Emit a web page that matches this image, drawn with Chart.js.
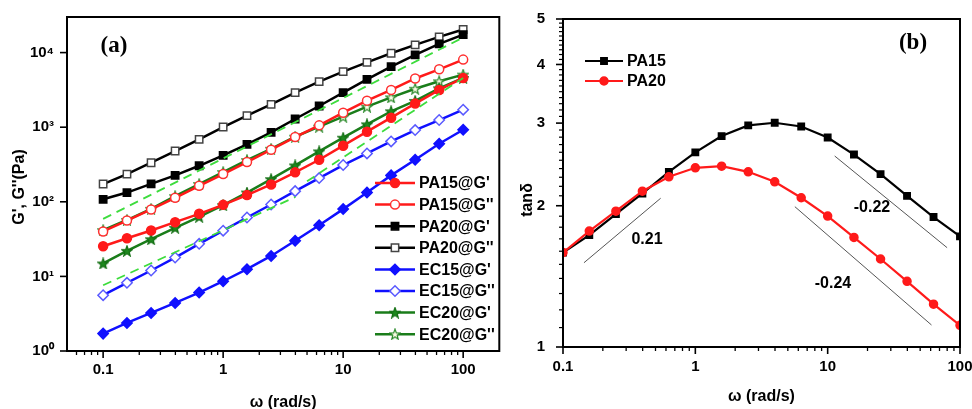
<!DOCTYPE html>
<html lang="en">
<head>
<meta charset="UTF-8">
<title>G', G'' e tanδ</title>
<script src="https://cdn.jsdelivr.net/npm/chart.js@4"></script>
<style>
  body { margin: 0; background: #fff; }
  #wrap { position: relative; width: 972px; height: 409px; overflow: hidden; }
  canvas { position: absolute; top: 0; }
</style>
</head>
<body>
<div id="wrap">
  <canvas id="graficoA" width="506" height="409" style="left:0"></canvas>
  <canvas id="graficoB" width="466" height="409" style="left:506px"></canvas>
</div>
<script>
// frequencias (rad/s)
var omega = [0.1, 0.158, 0.251, 0.398, 0.631, 1, 1.58, 2.51, 3.98, 6.31, 10, 15.8, 25.1, 39.8, 63.1, 100];

// painel (a) - G' e G'' (Pa)
var pa15G1 = [25.4, 32.5, 41.2, 53.3, 69, 91, 123, 171, 248, 366, 565, 871, 1342, 2070, 3155, 4570];
var pa15G2 = [40, 56, 79, 113, 164, 235, 341, 499, 738, 1059, 1566, 2269, 3155, 4500, 5970, 8050];
var pa20G1 = [108, 133, 174, 226, 304, 419, 589, 853, 1288, 1923, 2904, 4385, 6490, 9310, 13060, 17450];
var pa20G2 = [173, 235, 334, 479, 687, 1005, 1427, 2025, 2904, 4080, 5560, 7410, 9800, 12680, 16230, 20370];
var ec15G1 = [1.71, 2.38, 3.24, 4.41, 6.07, 8.61, 12.5, 18.8, 30, 48.6, 79.8, 133, 226, 366, 600, 925];
var ec15G2 = [5.6, 8.2, 12, 17.9, 27.3, 41, 61.6, 92, 139, 208, 311, 445, 645, 915, 1247, 1718];
var ec20G1 = [14.9, 22, 31.5, 44.8, 63, 90, 133, 201, 307, 474, 723, 1091, 1633, 2250, 3320, 4570];
var ec20G2 = [41.7, 57, 80.5, 119, 173, 250, 362, 514, 745, 1016, 1384, 1884, 2512, 3270, 4125, 5070];

// retas tracejadas (guias) do painel (a)
var guia1X = [0.1, 100], guia1Y = [59, 15900];
var guia2X = [0.1, 4], guia2Y = [7.6, 116];
var guia3X = [5, 100], guia3Y = [188, 4570];

// painel (b) - tan delta
var pa15Tan = [1.589, 1.731, 1.919, 2.124, 2.362, 2.598, 2.815, 2.967, 3.005, 2.95, 2.795, 2.571, 2.335, 2.099, 1.892, 1.721];
var pa20Tan = [1.589, 1.766, 1.947, 2.148, 2.305, 2.409, 2.429, 2.362, 2.249, 2.08, 1.901, 1.712, 1.54, 1.38, 1.234, 1.112];

// retas de inclinacao do painel (b)
var reta021X = [0.144, 0.547], reta021Y = [1.512, 2.075];
var reta022X = [11.3, 79.9], reta022Y = [2.553, 1.628];
var reta024X = [5.65, 60.9], reta024Y = [1.991, 1.114];

// ticks
var xTicks = [0.1, 1, 10, 100];
var xTickLabels = ['0.1', '1', '10', '100'];
var yTicksA = [1, 10, 100, 1000, 10000];
var yTickLabelsA = ['10⁰', '10¹', '10²', '10³', '10⁴'];
var yTicksB = [1, 2, 3, 4, 5];
var yTickLabelsB = ['1', '2', '3', '4', '5'];

Chart.defaults.font.family = '"Liberation Sans", Arial, sans-serif';
Chart.defaults.font.weight = 'bold';
Chart.defaults.font.size = 15;
Chart.defaults.color = '#000';

var FONTE = 'bold 16px "Liberation Sans", Arial, sans-serif';

function estrela(cor, fundo) {
    var c = document.createElement('canvas');
    c.width = 12; c.height = 12;
    var g = c.getContext('2d');
    g.beginPath();
    for (var i = 0; i < 10; i++) {
        var r = i % 2 == 0 ? 5.5 : 2.3;
        var a = -Math.PI / 2 + i * Math.PI / 5;
        g.lineTo(6 + r * Math.cos(a), 6.5 + r * Math.sin(a));
    }
    g.closePath();
    g.fillStyle = fundo; g.fill();
    g.strokeStyle = cor; g.lineWidth = 1.2; g.stroke();
    return c;
}

function pontos(xs, ys) {
    return xs.map(function (x, i) { return { x: x, y: ys[i] }; });
}

function serie(rotulo, ys, cor, estilo, borda, fundo, raio, largura) {
    return {
        label: rotulo, data: pontos(omega, ys), legenda: true,
        borderColor: cor, backgroundColor: cor, borderWidth: largura || 2.5,
        pointStyle: estilo, pointRadius: raio, pointBorderColor: borda,
        pointBackgroundColor: fundo, pointBorderWidth: 1.5, tension: 0
    };
}

function guia(xs, ys) {
    return {
        data: pontos(xs, ys), borderColor: '#3ddc3d', borderWidth: 1.8,
        borderDash: [9, 6], pointRadius: 0, tension: 0
    };
}

function reta(xs, ys) {
    return { data: pontos(xs, ys), borderColor: '#555', borderWidth: 1, pointRadius: 0, tension: 0 };
}

function menores(de, ate) {
    var r = [];
    for (var d = de; d < ate * 0.999; d *= 10)
        for (var k = 2; k <= 9; k++) r.push(+(d * k).toPrecision(3));
    return r;
}

// desenha moldura, marcas, titulos, legenda e textos
var moldura = {
    id: 'moldura',
    afterDraw: function (chart, args, o) {
        var ctx = chart.ctx, a = chart.chartArea;
        var sx = chart.scales.x, sy = chart.scales.y;
        ctx.save();
        ctx.strokeStyle = '#000';
        function traco(x1, y1, x2, y2, w) {
            ctx.lineWidth = w; ctx.beginPath(); ctx.moveTo(x1, y1); ctx.lineTo(x2, y2); ctx.stroke();
        }
        o.xMaior.forEach(function (v) { var p = sx.getPixelForValue(v); traco(p, a.bottom, p, a.bottom + 7, 1.6); });
        o.xMenor.forEach(function (v) { var p = sx.getPixelForValue(v); if (p > a.left + 1 && p < a.right - 1) traco(p, a.bottom, p, a.bottom + 4, 1.3); });
        o.yMaior.forEach(function (v) { var p = sy.getPixelForValue(v); traco(a.left, p, a.left - 7, p, 1.6); });
        o.yMenor.forEach(function (v) { var p = sy.getPixelForValue(v); traco(a.left, p, a.left - 4, p, 1.2); });
        ctx.lineWidth = 2;
        ctx.strokeRect(a.left, a.top, a.right - a.left, a.bottom - a.top);

        ctx.fillStyle = '#000';
        ctx.font = FONTE;
        ctx.textAlign = 'center';
        ctx.textBaseline = 'middle';
        ctx.fillText(o.tituloX, (a.left + a.right) / 2, o.tituloXy);
        ctx.save();
        ctx.translate(o.tituloYx, o.tituloYy);
        ctx.rotate(-Math.PI / 2);
        ctx.fillText(o.tituloY, 0, 0);
        ctx.restore();

        // legenda
        var n = 0;
        chart.data.datasets.forEach(function (ds) {
            if (!ds.legenda) return;
            var y = o.legY + (o.legOrdem ? o.legOrdem.indexOf(ds.label) : n) * o.legPasso;
            n++;
            ctx.strokeStyle = ds.borderColor;
            ctx.setLineDash([]);
            traco(o.legX, y, o.legX + o.legLargura, y, ds.borderWidth);
            ctx.fillStyle = ds.pointBackgroundColor;
            ctx.strokeStyle = ds.pointBorderColor;
            ctx.lineWidth = ds.pointBorderWidth;
            Chart.helpers.drawPoint(ctx, { pointStyle: ds.pointStyle, radius: ds.pointRadius, rotation: 0, borderWidth: ds.pointBorderWidth }, o.legX + o.legLargura / 2, y);
            ctx.fillStyle = '#000';
            ctx.font = FONTE;
            ctx.textAlign = 'left';
            ctx.fillText(ds.label, o.legX + o.legLargura + 4, y + 1);
        });

        // textos soltos
        o.textos.forEach(function (t) {
            ctx.font = t.fonte || FONTE;
            ctx.textAlign = 'center';
            ctx.fillStyle = '#000';
            ctx.fillText(t.texto, t.x, t.y);
        });
        ctx.restore();
    }
};

function eixo(tipo, min, max, ticks, rotulos, tamanho, padding) {
    var horizontal = tipo == 'x';
    return {
        type: 'logarithmic', min: min, max: max,
        grid: { display: false }, border: { display: false },
        afterBuildTicks: function (s) { s.ticks = ticks.map(function (v) { return { value: v }; }); },
        afterFit: function (s) {
            if (horizontal) { s.height = tamanho; s.paddingLeft = 0; s.paddingRight = 0; }
            else { s.width = tamanho; s.paddingTop = 0; s.paddingBottom = 0; }
        },
        ticks: {
            autoSkip: false, maxRotation: 0, padding: padding, color: '#000',
            font: { size: 15, weight: 'bold' },
            callback: function (v, i) { return rotulos[i]; }
        }
    };
}

var estrelaCheia = estrela('#136f13', '#1f8a1f');
var estrelaVazia = estrela('#2a8a2a', '#fbfbe6');

new Chart(document.getElementById('graficoA'), {
    type: 'line',
    data: {
        datasets: [
            guia(guia1X, guia1Y),
            guia(guia2X, guia2Y),
            guia(guia3X, guia3Y),
            serie("PA15@G'", pa15G1, '#ff1a1a', 'circle', '#ff1a1a', '#ff1a1a', 4.5),
            serie("PA15@G''", pa15G2, '#ff1a1a', 'circle', '#ff3030', '#ffffff', 4.5),
            serie("PA20@G'", pa20G1, '#000000', 'rect', '#000000', '#000000', 5.2),
            serie("PA20@G''", pa20G2, '#000000', 'rect', '#444444', '#ffffff', 5.2),
            serie("EC15@G'", ec15G1, '#1010ff', 'rectRot', '#1010ff', '#1010ff', 5.2),
            serie("EC15@G''", ec15G2, '#1010ff', 'rectRot', '#5a5aff', '#ffffff', 5.2),
            serie("EC20@G'", ec20G1, '#1a7d1a', estrelaCheia, '#1a7d1a', '#1a7d1a', 5),
            serie("EC20@G''", ec20G2, '#1a7d1a', estrelaVazia, '#2a8a2a', '#fbfbe6', 5)
        ]
    },
    options: {
        responsive: false,
        animation: false,
        layout: { padding: { top: 17, right: 2, left: 0, bottom: 0 } },
        plugins: {
            legend: { display: false },
            tooltip: { enabled: false },
            moldura: {
                xMaior: xTicks,
                xMenor: [0.05, 0.06, 0.07, 0.08, 0.09].concat(menores(0.1, 100)),
                yMaior: yTicksA, yMenor: [],
                tituloX: 'ω (rad/s)', tituloXy: 403,
                tituloY: "G', G''(Pa)", tituloYx: 20, tituloYy: 187,
                legX: 375, legY: 183, legPasso: 21.6, legLargura: 40,
                textos: [{ texto: '(a)', x: 114, y: 46, fonte: 'bold 23px "Liberation Serif", "Times New Roman", serif' }]
            }
        },
        scales: {
            x: eixo('x', 0.05, 200, xTicks, xTickLabels, 58, 2),
            y: eixo('y', 1, 30000, yTicksA, yTickLabelsA, 67, 5)
        }
    },
    plugins: [moldura]
});

new Chart(document.getElementById('graficoB'), {
    type: 'line',
    data: {
        datasets: [
            reta(reta021X, reta021Y),
            reta(reta022X, reta022Y),
            reta(reta024X, reta024Y),
            serie('PA20', pa20Tan, '#ff1a1a', 'circle', '#ff1a1a', '#ff1a1a', 4, 2.2),
            serie('PA15', pa15Tan, '#000000', 'rect', '#000000', '#000000', 4.5, 2.2)
        ]
    },
    options: {
        responsive: false,
        animation: false,
        layout: { padding: { top: 19, right: 12, left: 0, bottom: 0 } },
        plugins: {
            legend: { display: false },
            tooltip: { enabled: false },
            moldura: {
                xMaior: xTicks,
                xMenor: menores(0.1, 100),
                yMaior: yTicksB,
                yMenor: [1.1, 1.2, 1.3, 1.4, 1.5, 1.6, 1.7, 1.8, 1.9, 2.1, 2.2, 2.3, 2.4, 2.5, 2.6, 2.7, 2.8, 2.9,
                         3.1, 3.2, 3.3, 3.4, 3.5, 3.6, 3.7, 3.8, 3.9, 4.1, 4.2, 4.3, 4.4, 4.5, 4.6, 4.7, 4.8, 4.9],
                tituloX: 'ω (rad/s)', tituloXy: 397,
                tituloY: 'tanδ', tituloYx: 22, tituloYy: 200,
                legX: 79, legY: 61, legPasso: 20, legLargura: 38, legOrdem: ['PA15', 'PA20'],
                textos: [
                    { texto: '(b)', x: 407, y: 43, fonte: 'bold 23px "Liberation Serif", "Times New Roman", serif' },
                    { texto: '0.21', x: 141, y: 240 },
                    { texto: '-0.22', x: 366, y: 208 },
                    { texto: '-0.24', x: 327, y: 284 }
                ]
            }
        },
        scales: {
            x: eixo('x', 0.1, 100, xTicks, xTickLabels, 62, 3),
            y: eixo('y', 1, 5, yTicksB, yTickLabelsB, 57, 10)
        }
    },
    plugins: [moldura]
});
</script>
</body>
</html>
